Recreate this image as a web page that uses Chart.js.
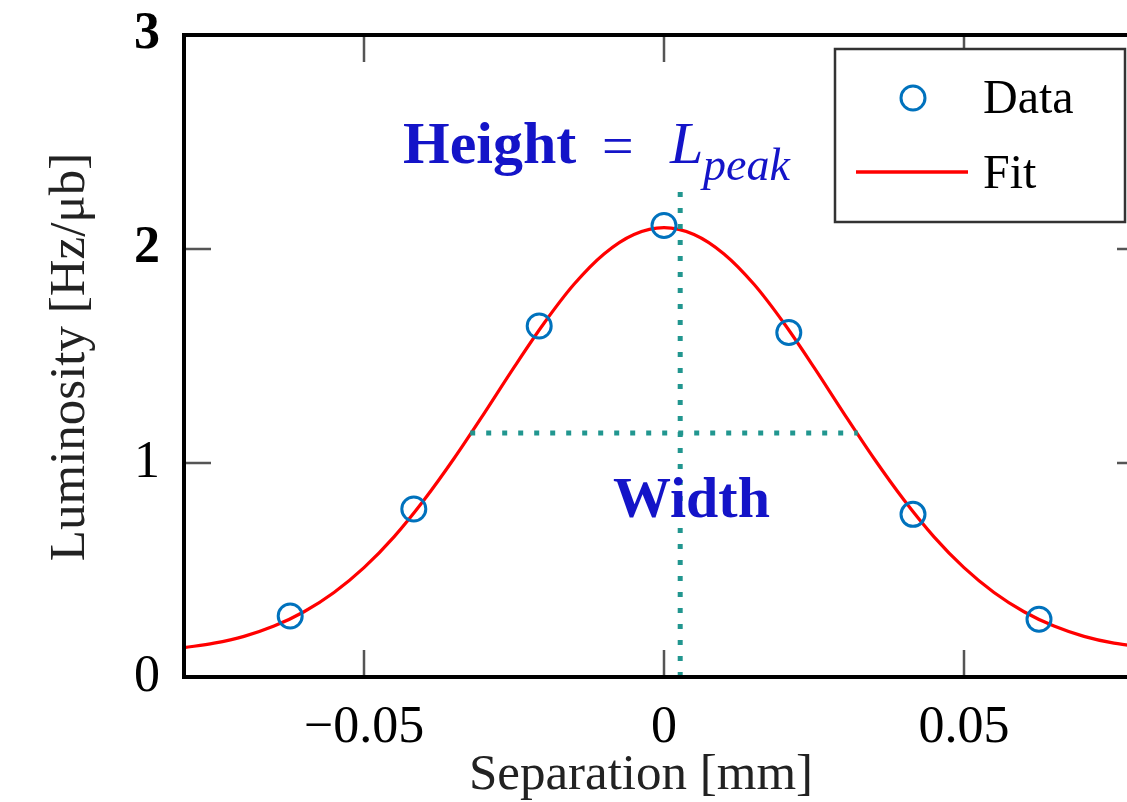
<!DOCTYPE html>
<html lang="en">
<head>
    <meta charset="UTF-8">
    <title>Luminosity scan</title>
    <script src="https://cdn.jsdelivr.net/npm/chart.js"></script>
    <style>
        html, body {
            margin: 0;
            padding: 0;
            background: #fff;
            overflow: hidden;
        }
        .chart-box {
            width: 1160px;
            height: 802px;
        }
    </style>
</head>
<body>
    <div class="chart-box">
        <canvas id="scanChart" width="1160" height="802"></canvas>
    </div>

    <script>
        // --- data ---
        const pointX = [-0.0623, -0.0417, -0.0208, 0, 0.0208, 0.0415, 0.0625];
        const pointY = [0.285, 0.785, 1.64, 2.11, 1.61, 0.76, 0.27];

        const fitX = [-0.08, -0.075, -0.07, -0.065, -0.06, -0.055, -0.05, -0.045, -0.04, -0.035, -0.03,
                      -0.025, -0.02, -0.015, -0.01, -0.005, 0, 0.005, 0.01, 0.015, 0.02, 0.025,
                      0.03, 0.035, 0.04, 0.045, 0.05, 0.055, 0.06, 0.065, 0.07, 0.075, 0.08];
        const fitY = [0.137, 0.158, 0.190, 0.238, 0.305, 0.395, 0.511, 0.655, 0.827, 1.021, 1.231,
                      1.447, 1.653, 1.835, 1.977, 2.068, 2.100, 2.068, 1.977, 1.835, 1.653, 1.447,
                      1.231, 1.021, 0.827, 0.655, 0.511, 0.395, 0.305, 0.238, 0.190, 0.158, 0.140];

        // dotted guides: peak height and width
        const heightLineX = [0.0027, 0.0027];
        const heightLineY = [0, 2.3];
        const widthLineX = [-0.0323, 0.0323];
        const widthLineY = [1.14, 1.14];

        const xTicks = [-0.05, 0, 0.05];
        const yTicks = [0, 1, 2, 3];

        const toPoints = (xs, ys) => xs.map((x, i) => ({ x: x, y: ys[i] }));
        const SERIF = '"Liberation Serif", "Times New Roman", serif';
        const blue = '#0072bd';
        const teal = '#21968f';
        const ink = '#1414c8';

        // frame, inward ticks, axis titles, annotations and legend
        const decorations = {
            id: 'decorations',
            afterDraw(chart) {
                const c = chart.ctx;
                const a = chart.chartArea;
                const sx = chart.scales.x, sy = chart.scales.y;
                c.save();

                // inward tick marks on all four sides
                c.strokeStyle = '#555';
                c.lineWidth = 2.5;
                xTicks.forEach(v => {
                    const p = sx.getPixelForValue(v);
                    c.beginPath();
                    c.moveTo(p, a.bottom); c.lineTo(p, a.bottom - 27);
                    c.moveTo(p, a.top); c.lineTo(p, a.top + 27);
                    c.stroke();
                });
                yTicks.slice(1, -1).forEach(v => {
                    const p = sy.getPixelForValue(v);
                    c.beginPath();
                    c.moveTo(a.left, p); c.lineTo(a.left + 27, p);
                    c.moveTo(a.right, p); c.lineTo(a.right - 27, p);
                    c.stroke();
                });

                // box
                c.strokeStyle = '#000';
                c.lineWidth = 4;
                c.strokeRect(a.left, a.top, a.right - a.left, a.bottom - a.top);

                // axis titles
                c.fillStyle = '#222';
                c.font = '51px ' + SERIF;
                c.textAlign = 'center';
                c.textBaseline = 'alphabetic';
                c.fillText('Separation [mm]', 641, 789);
                c.save();
                c.translate(84, 357);
                c.rotate(-Math.PI / 2);
                c.fillText('Luminosity [Hz/\u03bcb]', 0, 0);
                c.restore();

                // annotations
                c.fillStyle = ink;
                c.textAlign = 'left';
                c.font = 'bold 60px ' + SERIF;
                c.fillText('Height', 403, 163);
                c.font = '56px ' + SERIF;
                c.fillText('=', 602, 165);
                c.font = 'italic 60px ' + SERIF;
                c.fillText('L', 670, 163);
                c.font = 'italic 46px ' + SERIF;
                c.fillText('peak', 703, 180);
                c.font = 'bold 58px ' + SERIF;
                c.fillText('Width', 613, 517);

                // legend
                c.fillStyle = '#fff';
                c.fillRect(835, 49, 290, 173);
                c.strokeStyle = '#333';
                c.lineWidth = 2.5;
                c.strokeRect(835, 49, 290, 173);
                c.strokeStyle = blue;
                c.lineWidth = 3;
                c.beginPath();
                c.arc(913, 98, 12, 0, Math.PI * 2);
                c.stroke();
                c.strokeStyle = '#ff0000';
                c.lineWidth = 3.5;
                c.beginPath();
                c.moveTo(856, 172); c.lineTo(968, 172);
                c.stroke();
                c.fillStyle = '#000';
                c.font = '48px ' + SERIF;
                c.fillText('Data', 983, 113);
                c.fillText('Fit', 983, 188);

                c.restore();
            }
        };

        new Chart(document.getElementById('scanChart'), {
            type: 'scatter',
            data: {
                datasets: [
                    {
                        label: 'Fit',
                        data: toPoints(fitX, fitY),
                        showLine: true,
                        borderColor: '#ff0000',
                        borderWidth: 3.2,
                        cubicInterpolationMode: 'monotone',
                        pointRadius: 0,
                        order: 3
                    },
                    {
                        label: 'height',
                        data: toPoints(heightLineX, heightLineY),
                        showLine: true,
                        borderColor: teal,
                        borderWidth: 5,
                        borderDash: [5, 11],
                        pointRadius: 0,
                        order: 2
                    },
                    {
                        label: 'width',
                        data: toPoints(widthLineX, widthLineY),
                        showLine: true,
                        borderColor: teal,
                        borderWidth: 5,
                        borderDash: [5, 11],
                        pointRadius: 0,
                        order: 2
                    },
                    {
                        label: 'Data',
                        data: toPoints(pointX, pointY),
                        showLine: false,
                        pointStyle: 'circle',
                        pointRadius: 12,
                        pointBorderWidth: 3,
                        pointBorderColor: blue,
                        pointBackgroundColor: 'rgba(0,0,0,0)',
                        order: 1
                    }
                ]
            },
            options: {
                responsive: false,
                animation: false,
                layout: { padding: { top: 35, right: 16, bottom: 0, left: 0 } },
                plugins: {
                    legend: { display: false },
                    tooltip: { enabled: false }
                },
                scales: {
                    x: {
                        type: 'linear',
                        min: -0.08,
                        max: 0.08,
                        afterBuildTicks: s => { s.ticks = xTicks.map(v => ({ value: v })); },
                        afterFit: s => { s.height = 125; s.paddingLeft = 0; s.paddingRight = 0; },
                        grid: { display: false, drawTicks: false },
                        border: { display: false },
                        ticks: {
                            padding: 20,
                            color: '#000',
                            font: { family: SERIF, size: 52 },
                            callback: v => v < 0 ? '\u2212' + Math.abs(v) : String(v)
                        }
                    },
                    y: {
                        type: 'linear',
                        min: 0,
                        max: 3,
                        afterBuildTicks: s => { s.ticks = yTicks.map(v => ({ value: v })); },
                        afterFit: s => { s.width = 184; s.paddingTop = 0; s.paddingBottom = 0; },
                        grid: { display: false, drawTicks: false },
                        border: { display: false },
                        ticks: {
                            padding: 24,
                            color: '#000',
                            font: ctx => ({
                                family: SERIF,
                                size: 52,
                                weight: ctx.tick && ctx.tick.value >= 2 ? 'bold' : 'normal'
                            })
                        }
                    }
                }
            },
            plugins: [decorations]
        });
    </script>
</body>
</html>
